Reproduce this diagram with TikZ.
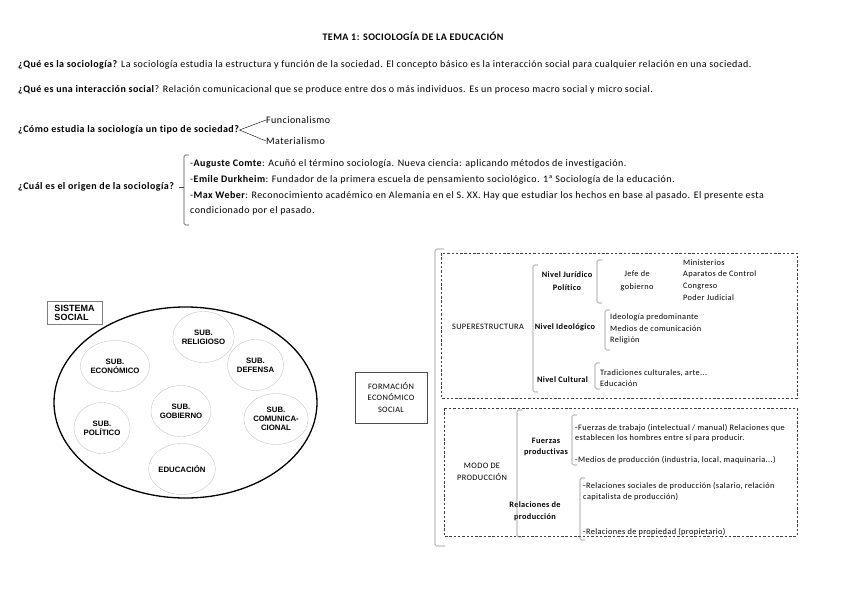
\documentclass[tikz,border=0pt]{standalone}
\usepackage{fontspec}
\setmainfont{Carlito}[LetterSpace=4.4, Ligatures=NoCommon]
\newfontfamily\arialfont{Liberation Sans}
\usetikzlibrary{shapes.geometric}

\tikzset{
  txt/.style={anchor=west, inner sep=0pt, font=\fontsize{10}{11}\selectfont},
  sub/.style={draw=black!22, ellipse, minimum width=56pt, minimum height=51pt, inner sep=0pt, align=center, font=\arialfont\bfseries\fontsize{7.8}{9}\selectfont},
  small/.style={inner sep=0pt, align=center, font=\fontsize{8.3}{11.7}\selectfont},
  lst/.style={small, anchor=west, align=left},
  dashbox/.style={draw=black!75, dash pattern=on 2.5pt off 1.8pt, line width=0.8pt},
  brk/.style={draw=black!45, line width=0.6pt, rounded corners=1.5pt},
}

\begin{document}
\begin{tikzpicture}[x=1pt,y=-1pt]
    \useasboundingbox (0,0) rectangle (848,599);
    % text part
    \node (title) [inner sep=0pt, font=\bfseries\fontsize{10}{11}\selectfont] at (413,36) {TEMA 1: SOCIOLOGÍA DE LA EDUCACIÓN};
    \node (q1) [txt] at (18,65) {\textbf{¿Qué es la sociología?} La sociología estudia la estructura y función de la sociedad. El concepto básico es la interacción social para cualquier relación en una sociedad.};
    \node (q2) [txt] at (18,90) {\textbf{¿Qué es una interacción social}? Relación comunicacional que se produce entre dos o más individuos. Es un proceso macro social y micro social.};
    \node (q3) [txt] at (18,130) {\textbf{¿Cómo estudia la sociología un tipo de sociedad?}};
    \node (fun) [txt] at (266,120) {Funcionalismo};
    \node (mat) [txt] at (266,141) {Materialismo};
    \draw (q3.east) -- (fun.west);
    \draw (q3.east) -- (mat.west);
    \node (q4) [txt] at (18,187) {\textbf{¿Cuál es el origen de la sociología?}};
    \node (comte) [txt] at (190,164) {-\textbf{Auguste Comte}: Acuñó el término sociología. Nueva ciencia: aplicando métodos de investigación.};
    \node (durk) [txt] at (190,180) {-\textbf{Emile Durkheim}: Fundador de la primera escuela de pensamiento sociológico. 1ª Sociología de la educación.};
    \node (weber) [txt] at (190,196) {-\textbf{Max Weber}: Reconocimiento académico en Alemania en el S. XX. Hay que estudiar los hechos en base al pasado. El presente esta};
    \node (weber2) [txt] at (190,211) {condicionado por el pasado.};
    \draw[brk, draw=black!70] (189,155) -- (184,155) -- (184,225) -- (189,225);
    \draw[draw=black!70, line width=0.6pt] (q4.east) ++(4,0) -- (184,187);

    % sistema social
    \node (sys) [draw, ellipse, line width=1.3pt, minimum width=263pt, minimum height=191pt] at (185.5,402.5) {};
    \node (lbl) [draw=black!50, fill=white, minimum width=55pt, minimum height=23pt, align=left, inner sep=1pt, font=\arialfont\bfseries\fontsize{9}{9.5}\selectfont] at (74.5,313) {SISTEMA\\SOCIAL};
    \node (rel) [sub] at (203.5,337) {SUB.\\RELIGIOSO};
    \node (eco) [sub] at (115,366) {SUB.\\ECONÓMICO};
    \node (def) [sub] at (255.5,365) {SUB.\\DEFENSA};
    \node (gob) [sub] at (181,411) {SUB.\\GOBIERNO};
    \node (pol) [sub] at (102,428) {SUB.\\POLÍTICO};
    \node (com) [sub] at (276,419) {SUB.\\COMUNICA-\\CIONAL};
    \node (edu) [sub] at (182,469) {EDUCACIÓN};

    % formacion economico social
    \node (fes) [draw=black!70, small, minimum width=72pt, minimum height=51pt] at (391,397.5) {FORMACIÓN\\ECONÓMICO\\SOCIAL};
    \draw[brk] (444,249) -- (435,249) -- (435,546) -- (445,546);
    \draw[dashbox] (441,253) rectangle (797,398);
    \draw[dashbox] (444,408) rectangle (797,536);

    \node (sup) [small] at (488,327) {SUPERESTRUCTURA};
    \node (njp) [small, font=\bfseries\fontsize{8.3}{12.5}\selectfont] at (567,281) {Nivel Jurídico\\Político};
    \node (jefe) [small, font=\fontsize{8.3}{12.5}\selectfont] at (637,281) {Jefe de\\gobierno};
    \node (minis) [lst] at (683,280) {Ministerios\\Aparatos de Control\\Congreso\\Poder Judicial};
    \node (nid) [small, font=\bfseries\fontsize{8.3}{11.7}\selectfont] at (565,327) {Nivel Ideológico};
    \node (ideo) [lst] at (610,329) {Ideología predominante\\Medios de comunicación\\Religión};
    \node (ncu) [small, font=\bfseries\fontsize{8.3}{11.7}\selectfont] at (562.5,380) {Nivel Cultural};
    \node (trad) [lst, font=\fontsize{8.3}{10.5}\selectfont] at (600,378) {Tradiciones culturales, arte...\\Educación};

    \node (modo) [small] at (482,472) {MODO DE\\PRODUCCIÓN};
    \node (fp) [small, font=\bfseries\fontsize{8.3}{11}\selectfont] at (546,447) {Fuerzas\\productivas};
    \node (ft) [lst, font=\fontsize{8.3}{10.5}\selectfont] at (575,433) {-Fuerzas de trabajo (intelectual / manual) Relaciones que\\establecen los hombres entre sí para producir.};
    \node (mp) [lst] at (575,460) {-Medios de producción (industria, local, maquinaria...)};
    \node (rp) [small, font=\bfseries\fontsize{8.3}{12}\selectfont] at (535,511) {Relaciones de\\producción};
    \node (rs) [lst, font=\fontsize{8.3}{10.5}\selectfont] at (583,491.5) {-Relaciones sociales de producción (salario, relación\\capitalista de producción)};
    \node (rpr) [lst] at (583,532) {-Relaciones de propiedad (propietario)};

    \foreach \bx/\bt/\bb in {533/265/392, 597/260/303, 605/310/350, 595/363/389, 517/410/537, 572/415/465, 580/478/540}
      \draw[brk] (\bx+5,\bt) -- (\bx,\bt) -- (\bx,\bb) -- (\bx+5,\bb);
\end{tikzpicture}
\end{document}
